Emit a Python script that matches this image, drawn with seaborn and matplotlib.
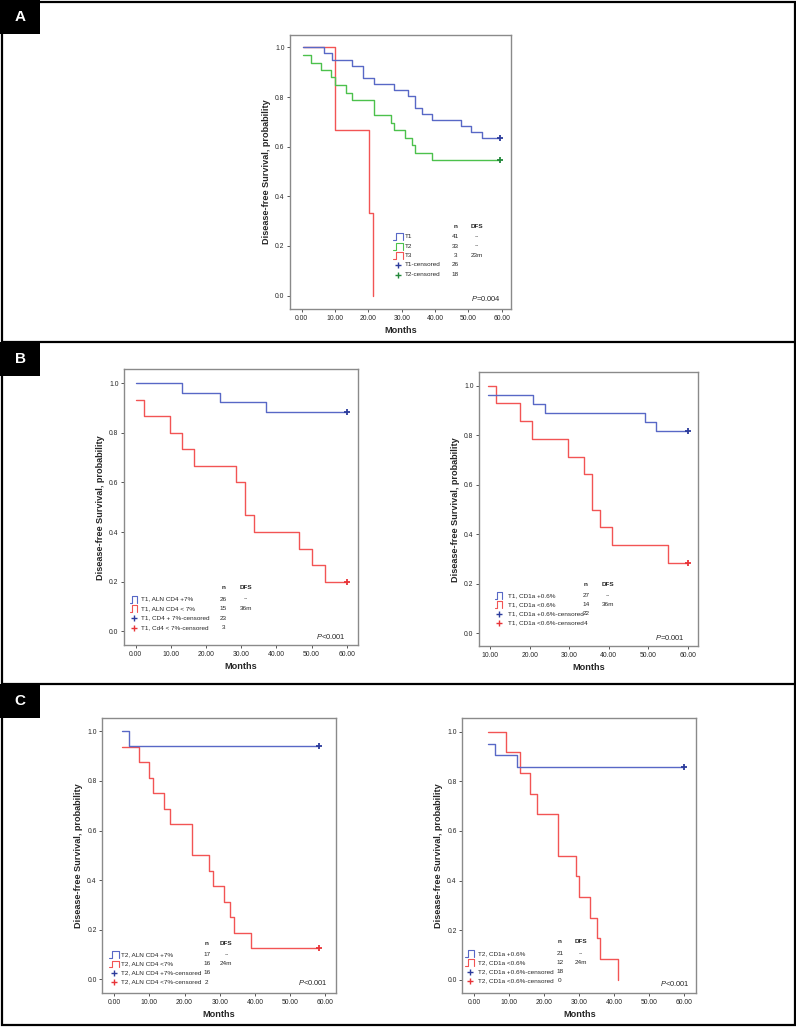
#Importing libraries
import matplotlib
matplotlib.use('Agg')
import matplotlib.pyplot as plt
from matplotlib.patches import Rectangle
from matplotlib.lines import Line2D
import seaborn as sns

#Survival curves (step start times and survival levels)
#Panel A - tumour stage
a_t1_time = [0.5, 6.8, 9.0, 15.2, 18.3, 21.6, 27.8, 32.0, 34.0, 36.2, 39.2, 47.7, 50.8, 54.0, 59.5]
a_t1_surv = [1.0, 0.976, 0.951, 0.927, 0.878, 0.854, 0.829, 0.805, 0.756, 0.732, 0.707, 0.683, 0.659, 0.634, 0.634]
a_t2_time = [0.5, 2.7, 5.7, 8.8, 10.0, 13.2, 15.2, 21.6, 26.8, 27.8, 31.0, 33.0, 34.0, 39.2, 59.5]
a_t2_surv = [0.970, 0.939, 0.909, 0.879, 0.848, 0.818, 0.788, 0.727, 0.697, 0.667, 0.636, 0.606, 0.576, 0.545, 0.545]
a_t3_time = [0.5, 10.0, 20.3, 21.5]
a_t3_surv = [1.0, 0.667, 0.333, 0.0]

#Panel B left - T1, ALN CD4
bl_hi_time = [0.0, 13.2, 24.1, 37.0, 60.0]
bl_hi_surv = [1.0, 0.962, 0.923, 0.885, 0.885]
bl_lo_time = [0.0, 2.4, 9.7, 13.2, 16.7, 28.6, 31.1, 33.6, 46.4, 50.0, 53.7, 60.0]
bl_lo_surv = [0.933, 0.867, 0.8, 0.733, 0.667, 0.6, 0.467, 0.4, 0.333, 0.267, 0.2, 0.2]

#Panel B right - T1, CD1a
br_hi_time = [9.6, 20.8, 23.8, 49.1, 51.9, 60.0]
br_hi_surv = [0.963, 0.926, 0.889, 0.852, 0.815, 0.815]
br_lo_time = [9.6, 11.6, 17.6, 20.7, 29.6, 33.7, 35.8, 37.8, 40.8, 54.9, 60.0]
br_lo_surv = [1.0, 0.929, 0.857, 0.786, 0.714, 0.643, 0.5, 0.429, 0.357, 0.286, 0.286]

#Panel C left - T2, ALN CD4
cl_hi_time = [2.2, 4.1, 58.4]
cl_hi_surv = [1.0, 0.941, 0.941]
cl_lo_time = [2.2, 7.0, 10.0, 11.1, 14.1, 16.0, 22.1, 27.1, 28.0, 31.1, 33.0, 34.0, 39.0, 58.4]
cl_lo_surv = [0.938, 0.875, 0.813, 0.75, 0.688, 0.625, 0.5, 0.438, 0.375, 0.313, 0.25, 0.188, 0.125, 0.125]

#Panel C right - T2, CD1a
cr_hi_time = [4.1, 6.1, 12.2, 60.0]
cr_hi_surv = [0.952, 0.905, 0.857, 0.857]
cr_lo_time = [4.1, 9.1, 13.1, 16.0, 18.1, 24.1, 29.1, 30.1, 33.1, 35.2, 36.1, 41.2]
cr_lo_surv = [1.0, 0.917, 0.833, 0.75, 0.667, 0.5, 0.417, 0.333, 0.25, 0.167, 0.083, 0.0]

#Legend texts
a_labels = ['T1', 'T2', 'T3', 'T1-censored', 'T2-censored']
a_n = ['41', '33', '3', '26', '18']
a_dfs = ['--', '--', '23m', '', '']
bl_labels = ['T1, ALN CD4 +7%', 'T1, ALN CD4 < 7%', 'T1, CD4 + 7%-censored', 'T1, Cd4 < 7%-censored']
bl_n = ['26', '15', '23', '3']
bl_dfs = ['--', '36m', '', '']
br_labels = ['T1, CD1a +0.6%', 'T1, CD1a <0.6%', 'T1, CD1a +0.6%-censored', 'T1, CD1a <0.6%-censored']
br_n = ['27', '14', '22', '4']
br_dfs = ['--', '36m', '', '']
cl_labels = ['T2, ALN CD4 +7%', 'T2, ALN CD4 <7%', 'T2, ALN CD4 +7%-censored', 'T2, ALN CD4 <7%-censored']
cl_n = ['17', '16', '16', '2']
cl_dfs = ['--', '24m', '', '']
cr_labels = ['T2, CD1a +0.6%', 'T2, CD1a <0.6%', 'T2, CD1a +0.6%-censored', 'T2, CD1a <0.6%-censored']
cr_n = ['21', '12', '18', '0']
cr_dfs = ['--', '24m', '', '']

x_ticks_0 = [0, 10, 20, 30, 40, 50, 60]
x_ticks_10 = [10, 20, 30, 40, 50, 60]
y_ticks = [0.0, 0.2, 0.4, 0.6, 0.8, 1.0]

#Colours
BLUE, BLUE_C = '#5868c6', '#2c3c9c'
GREEN, GREEN_C = '#4cc14c', '#23883a'
RED, RED_C = '#f25454', '#e83438'

sns.set_style('white')
plt.rcParams['font.family'] = ['Liberation Sans', 'DejaVu Sans']
plt.rcParams['mathtext.fontset'] = 'custom'
plt.rcParams['mathtext.rm'] = 'Liberation Sans'
plt.rcParams['mathtext.it'] = 'Liberation Sans:italic'

W, H = 796, 1027
fig = plt.figure(figsize=(W / 100, H / 100), dpi=100)


def add_ax(left, top, right, bottom):
    #pixel box -> figure fraction
    return fig.add_axes([left / W, 1 - bottom / H, (right - left) / W, (bottom - top) / H])


def km(ax, time, surv, color, cens_color=None):
    sns.lineplot(x=time, y=surv, ax=ax, color=color, lw=1.0, drawstyle='steps-post',
                 estimator=None, sort=False)
    if cens_color is not None:
        sns.scatterplot(x=[time[-1]], y=[surv[-1]], ax=ax, marker='+', s=20, color=cens_color,
                        linewidth=1.3, zorder=5)


def style_ax(ax, xlim, ylim, xticks):
    ax.set_xlim(*xlim)
    ax.set_ylim(*ylim)
    ax.set_xticks(xticks)
    ax.set_xticklabels(['%.2f' % v for v in xticks])
    ax.set_yticks(y_ticks)
    ax.set_yticklabels(['%.1f' % v for v in y_ticks])
    ax.tick_params(direction='out', length=2.5, width=0.7, color='#555555', labelsize=4.9, pad=1.5,
                   bottom=True, left=True)
    for s in ax.spines.values():
        s.set_color('#8a8a8a')
        s.set_linewidth(1.0)
    ax.set_xlabel('Months', fontsize=6.6, fontweight='bold', labelpad=3)
    ax.set_ylabel('Disease-free Survival, probability', fontsize=6.6, fontweight='bold', labelpad=3)


def legend_block(ax, labels, ns, dfs, kinds, colors, icon_x, text_x, n_x, dfs_x, head_y, rows_y):
    ax.text(n_x, head_y, 'n', transform=ax.transAxes, fontsize=4.6, fontweight='bold', ha='center', va='center')
    ax.text(dfs_x, head_y, 'DFS', transform=ax.transAxes, fontsize=4.6, fontweight='bold', ha='center', va='center')
    h = 0.024
    for lab, n, d, kind, col, y in zip(labels, ns, dfs, kinds, colors, rows_y):
        x0, x1 = icon_x
        if kind == 'line':
            xf = x0 + 0.3 * (x1 - x0)
            ax.add_line(Line2D([x0, xf, xf, x1, x1], [y - h / 2, y - h / 2, y + h / 2, y + h / 2, y - h / 2],
                               transform=ax.transAxes, color=col, lw=0.8, clip_on=False))
        else:
            ax.plot([(x0 + x1) / 2], [y], transform=ax.transAxes, marker='+', ms=5, mew=1.0, color=col,
                    clip_on=False)
        ax.text(text_x, y, lab, transform=ax.transAxes, fontsize=4.6, va='center')
        ax.text(n_x, y, n, transform=ax.transAxes, fontsize=4.6, va='center', ha='center')
        ax.text(dfs_x, y, d, transform=ax.transAxes, fontsize=4.6, va='center', ha='center')


def pvalue(ax, x, y, txt):
    ax.text(x, y, txt, transform=ax.transAxes, fontsize=5.4, ha='right', va='bottom')


#Panel A
ax = add_ax(290, 35, 511, 309)
km(ax, a_t3_time, a_t3_surv, RED)
km(ax, a_t2_time, a_t2_surv, GREEN, GREEN_C)
km(ax, a_t1_time, a_t1_surv, BLUE, BLUE_C)
style_ax(ax, (-3.5, 62.8), (-0.054, 1.05), x_ticks_0)
legend_block(ax, a_labels, a_n, a_dfs, ['line'] * 3 + ['cens'] * 2,
             [BLUE, GREEN, RED, BLUE_C, GREEN_C], (0.466, 0.511), 0.522, 0.747, 0.846,
             0.300, [0.264, 0.229, 0.195, 0.161, 0.125])
pvalue(ax, 0.955, 0.022, '$P$=0.004')

#Panel B left
ax = add_ax(124, 369.3, 357.7, 645)
km(ax, bl_lo_time, bl_lo_surv, RED, RED_C)
km(ax, bl_hi_time, bl_hi_surv, BLUE, BLUE_C)
style_ax(ax, (-3.3, 63.1), (-0.055, 1.056), x_ticks_0)
legend_block(ax, bl_labels, bl_n, bl_dfs, ['line'] * 2 + ['cens'] * 2,
             [BLUE, RED, BLUE_C, RED_C], (0.026, 0.057), 0.073, 0.424, 0.522,
             0.207, [0.166, 0.132, 0.097, 0.063])
pvalue(ax, 0.949, 0.016, '$P$<0.001')

#Panel B right
ax = add_ax(479, 372.3, 697.7, 646)
km(ax, br_lo_time, br_lo_surv, RED, RED_C)
km(ax, br_hi_time, br_hi_surv, BLUE, BLUE_C)
style_ax(ax, (7.2, 62.5), (-0.051, 1.054), x_ticks_10)
legend_block(ax, br_labels, br_n, br_dfs, ['line'] * 2 + ['cens'] * 2,
             [BLUE, RED, BLUE_C, RED_C], (0.073, 0.107), 0.131, 0.489, 0.59,
             0.2265, [0.185, 0.151, 0.118, 0.084])
pvalue(ax, 0.942, 0.016, '$P$=0.001')

#Panel C left
ax = add_ax(102.3, 717.7, 336, 993.3)
km(ax, cl_lo_time, cl_lo_surv, RED, RED_C)
km(ax, cl_hi_time, cl_hi_surv, BLUE, BLUE_C)
style_ax(ax, (-3.4, 63.1), (-0.056, 1.055), x_ticks_0)
legend_block(ax, cl_labels, cl_n, cl_dfs, ['line'] * 2 + ['cens'] * 2,
             [BLUE, RED, BLUE_C, RED_C], (0.03, 0.073), 0.079, 0.447, 0.531,
             0.181, [0.141, 0.107, 0.075, 0.041])
pvalue(ax, 0.967, 0.024, '$P$<0.001')

#Panel C right
ax = add_ax(462.3, 718.3, 696.3, 993.3)
km(ax, cr_lo_time, cr_lo_surv, RED)
km(ax, cr_hi_time, cr_hi_surv, BLUE, BLUE_C)
style_ax(ax, (-3.3, 63.5), (-0.054, 1.054), x_ticks_0)
legend_block(ax, cr_labels, cr_n, cr_dfs, ['line'] * 2 + ['cens'] * 2,
             [BLUE, RED, BLUE_C, RED_C], (0.012, 0.051), 0.066, 0.417, 0.507,
             0.188, [0.145, 0.111, 0.078, 0.045])
pvalue(ax, 0.973, 0.018, '$P$<0.001')

#Panel frames and letter boxes
def fig_rect(x, y, w, h, **kw):
    fig.patches.append(Rectangle((x / W, 1 - (y + h) / H), w / W, h / H, transform=fig.transFigure, **kw))

fig_rect(1.5, 1.5, 793, 1023.5, fill=False, edgecolor='black', lw=1.6)
for ysep in [341.5, 683.5]:
    fig.add_artist(Line2D([1.5 / W, 794.5 / W], [1 - ysep / H, 1 - ysep / H], color='black', lw=1.6,
                          transform=fig.transFigure))
for letter, ytop in [('A', 0), ('B', 342), ('C', 684)]:
    fig_rect(0, ytop, 40, 34, facecolor='black', edgecolor='none')
    fig.text(20 / W, 1 - (ytop + 17) / H, letter, color='white', fontsize=11, fontweight='bold',
             ha='center', va='center')

plt.savefig('out.png', dpi=100)
